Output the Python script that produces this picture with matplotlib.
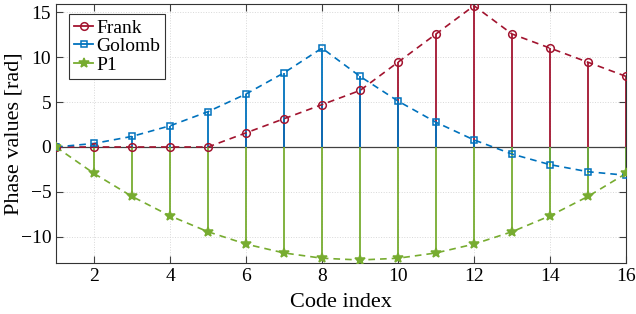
import matplotlib
matplotlib.use("Agg")
import matplotlib.pyplot as plt
from matplotlib.lines import Line2D

plt.rcParams['font.family'] = ['Liberation Serif', 'DejaVu Serif']
plt.rcParams['mathtext.fontset'] = 'stix'

idx = list(range(1, 17))
frank = [0, 0, 0, 0, 0, 1.571, 3.142, 4.712, 6.283, 9.425, 12.566, 15.708,
         12.566, 10.996, 9.425, 7.854]
golomb = [0, 0.393, 1.178, 2.356, 3.927, 5.890, 8.247, 10.996, 7.854, 5.105,
          2.749, 0.785, -0.785, -1.963, -2.749, -3.142]
p1 = [0, -2.945, -5.498, -7.658, -9.425, -10.799, -11.781, -12.370, -12.566,
      -12.370, -11.781, -10.799, -9.425, -7.658, -5.498, -2.945]

series = [("Frank", frank, "#A2142F", "o", 5.5, "none"),
          ("Golomb", golomb, "#0072BD", "s", 4, "none"),
          ("P1", p1, "#77AC30", "*", 7.5, None)]

fig = plt.figure(figsize=(6.36, 3.14), dpi=100)
ax = fig.add_axes([56/636, 51/314, 570/636, 259/314])

ax.axhline(0, color="#404040", lw=0.9, zorder=1.8)
handles = []
for name, vals, col, mk, ms, mfc in series:
    ax.vlines(idx, 0, vals, colors=col, lw=1.3, zorder=2)
    ax.plot(idx, vals, ls=(0, (4, 3)), color=col, lw=1.2, zorder=3)
    ax.plot(idx, vals, ls="none", marker=mk, ms=ms, mew=1.1, color=col,
            mfc=col if mfc is None else mfc, zorder=4)
    handles.append(Line2D([], [], color=col, lw=1.3, marker=mk, ms=ms, mew=1.1,
                          mfc=col if mfc is None else mfc, markevery=[1]))

ax.set_xlim(1, 16)
ax.set_ylim(-12.9, 15.9)
ax.set_xticks([2, 4, 6, 8, 10, 12, 14, 16])
ax.set_yticks([-10, -5, 0, 5, 10, 15])
ax.grid(True, ls=":", color="#d8d8d8", lw=0.7)
ax.tick_params(direction="in", top=True, right=True, labelsize=14, length=5,
               color="#404040")
for s in ax.spines.values():
    s.set_color("#333333")
    s.set_linewidth(0.8)
ax.set_xlabel("Code index", fontsize=16, labelpad=6)
ax.set_ylabel("Phase values [rad]", fontsize=16, labelpad=-2)

leg = ax.legend(handles, ["Frank", "Golomb", "P1"], loc="upper left",
                fontsize=14, handlelength=1.0, handletextpad=0.15,
                borderpad=0.25, labelspacing=0.05, fancybox=False,
                framealpha=1, edgecolor="#333333", borderaxespad=0,
                bbox_to_anchor=(0.0228, 0.961))
leg.get_frame().set_linewidth(0.8)

fig.savefig("out.png", dpi=100)
